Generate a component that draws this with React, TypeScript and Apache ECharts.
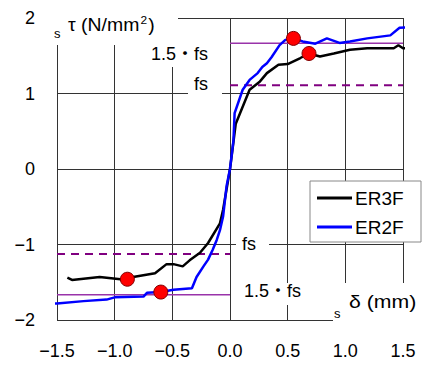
import React, { useEffect, useRef } from "react";
import * as echarts from "echarts";

const er3fX = [-1.41, -1.37, -1.13, -0.95, -0.84, -0.65, -0.55, -0.49, -0.41, -0.35, -0.26, -0.19, -0.087, -0.06, 0, 0.05, 0.17, 0.26, 0.32, 0.42, 0.5, 0.61, 0.685, 0.78, 0.9, 1.04, 1.19, 1.42, 1.46, 1.5, 1.58];
const er3fY = [-1.44, -1.47, -1.43, -1.46, -1.43, -1.38, -1.26, -1.26, -1.29, -1.21, -1.11, -0.98, -0.72, -0.54, 0, 0.6, 1.05, 1.16, 1.27, 1.38, 1.39, 1.47, 1.53, 1.49, 1.53, 1.58, 1.6, 1.6, 1.64, 1.6, 1.59];
const er2fX = [-1.57, -1.5, -1.27, -1.07, -1.0, -0.75, -0.72, -0.6, -0.49, -0.33, -0.29, -0.23, -0.19, -0.15, -0.115, -0.087, -0.06, -0.03, 0, 0.03, 0.04, 0.11, 0.17, 0.24, 0.28, 0.32, 0.36, 0.43, 0.48, 0.55, 0.63, 0.74, 0.84, 0.95, 1.04, 1.19, 1.39, 1.47, 1.58];
const er2fY = [-1.79, -1.78, -1.75, -1.73, -1.7, -1.69, -1.64, -1.63, -1.6, -1.58, -1.43, -1.29, -1.2, -1.07, -0.94, -0.81, -0.63, -0.23, 0, 0.38, 0.74, 1.05, 1.18, 1.27, 1.35, 1.4, 1.48, 1.64, 1.71, 1.73, 1.69, 1.66, 1.73, 1.67, 1.69, 1.73, 1.77, 1.87, 1.88];
const peakX = [0.685, 0.55, -0.89, -0.6];
const peakY = [1.53, 1.73, -1.46, -1.63];
const fs = 1.11;
const fs15 = 1.665;
const xTicks = [-1.5, -1.0, -0.5, 0.0, 0.5, 1.0, 1.5];
const yTicks = [-2, -1, 0, 1, 2];

const FONT = "'Liberation Sans', 'Noto Sans CJK JP', sans-serif";

function pairs(xs: number[], ys: number[]) {
  return xs.map((x, i) => [x, ys[i]]);
}

export default function App() {
  const ref = useRef<HTMLDivElement>(null);
  useEffect(() => {
    document.body.style.margin = "0";
    if (!ref.current) return;
    const chart = echarts.init(ref.current, undefined, { renderer: "svg" });
    const gridColor = "#333";
    const txt = (text: string, x: number, y: number, size: number, scaleX = 1) => ({
      type: "text",
      z: 1,
      x,
      y,
      scaleX,
      style: { text, fontSize: size, fontFamily: FONT, fill: "#000", align: "left", verticalAlign: "middle" },
    });
    const cover = (x: number, y: number, w: number, h: number) => ({
      type: "rect",
      z: 1,
      shape: { x, y, width: w, height: h },
      style: { fill: "#fff" },
    });
    chart.setOption({
      animation: false,
      grid: { left: 57, right: 19, top: 18, bottom: 45 },
      xAxis: {
        type: "value",
        min: xTicks[0],
        max: xTicks[xTicks.length - 1],
        interval: 0.5,
        axisLine: { show: false },
        axisTick: { show: false },
        splitLine: { show: true, lineStyle: { color: gridColor, width: 1 } },
        axisLabel: {
          fontSize: 18,
          color: "#000",
          fontFamily: FONT,
          margin: 22,
          formatter: (v: number) => v.toFixed(1).replace("-", "\u2212"),
        },
      },
      yAxis: {
        type: "value",
        min: yTicks[0],
        max: yTicks[yTicks.length - 1],
        interval: 1,
        axisLine: { show: false },
        axisTick: { show: false },
        splitLine: { show: true, lineStyle: { color: gridColor, width: 1 } },
        axisLabel: {
          fontSize: 18,
          color: "#000",
          fontFamily: FONT,
          margin: 22,
          formatter: (v: number) => String(v).replace("-", "\u2212"),
        },
      },
      legend: {
        data: ["ER3F", "ER2F"],
        orient: "vertical",
        left: 310,
        top: 181,
        padding: [7, 10, 5, 7],
        itemWidth: 35,
        itemHeight: 3,
        itemGap: 9,
        icon: "rect",
        backgroundColor: "#fff",
        borderColor: "#888",
        borderWidth: 1,
        borderRadius: 0,
        textStyle: { fontSize: 19, lineHeight: 20, fontFamily: FONT, color: "#000", padding: [0, 0, 0, -2], width: 56 },
      },
      graphic: [
        cover(40, 6, 138, 39),
        cover(140, 45, 70, 22),
        cover(188, 72, 34, 24),
        cover(236, 232, 33, 24),
        cover(238, 283, 70, 22),
        cover(333, 283, 89, 47),
        txt("s", 54, 33, 13),
        {
          type: "text",
          z: 1,
          x: 68,
          y: 25,
          scaleX: 1.08,
          style: {
            text: "{t|\u03c4 (N/mm}{sup|2}{t|)}",
            fontFamily: FONT,
            verticalAlign: "middle",
            rich: {
              t: { fontSize: 18, fontFamily: FONT, color: "#000" },
              sup: { fontSize: 11, fontFamily: FONT, color: "#000", padding: [0, 1, 10, 1] },
            },
          },
        },
        txt("1.5\u30fbfs", 151, 54, 18),
        txt("fs", 194, 84, 18),
        txt("fs", 242, 244, 18),
        txt("1.5\u30fbfs", 244, 291, 18),
        txt("s", 334, 313, 13),
        txt("\u03b4 (mm)", 349, 302, 18, 1.18),
      ],
      series: [
        {
          name: "fs+",
          type: "line",
          data: [[0, fs], [1.5, fs]],
          symbol: "none",
          lineStyle: { color: "#800080", width: 2, type: [8, 6] },
          z: 2,
        },
        {
          name: "fs-",
          type: "line",
          data: [[-1.5, -fs - 0.015], [0, -fs - 0.015]],
          symbol: "none",
          lineStyle: { color: "#800080", width: 2, type: [8, 6] },
          z: 2,
        },
        {
          name: "1.5fs+",
          type: "line",
          data: [[0, fs15], [1.5, fs15]],
          symbol: "none",
          lineStyle: { color: "#9933aa", width: 1.5 },
          z: 2,
        },
        {
          name: "1.5fs-",
          type: "line",
          data: [[-1.5, -fs15], [0, -fs15]],
          symbol: "none",
          lineStyle: { color: "#9933aa", width: 1.5 },
          z: 2,
        },
        {
          name: "ER3F",
          type: "line",
          data: pairs(er3fX, er3fY),
          symbol: "none",
          clip: false,
          color: "#000",
          lineStyle: { color: "#000", width: 2.5 },
          z: 3,
        },
        {
          name: "ER2F",
          type: "line",
          data: pairs(er2fX, er2fY),
          symbol: "none",
          clip: false,
          color: "#0000ff",
          lineStyle: { color: "#0000ff", width: 2.5 },
          z: 3,
        },
        {
          name: "peak",
          type: "scatter",
          data: pairs(peakX, peakY),
          symbolSize: 14,
          itemStyle: { color: "#ff0000", borderColor: "#800000", borderWidth: 1, opacity: 1 },
          z: 5,
        },
      ],
    });
    return () => chart.dispose();
  }, []);
  return <div ref={ref} style={{ width: 422, height: 365 }} />;
}
